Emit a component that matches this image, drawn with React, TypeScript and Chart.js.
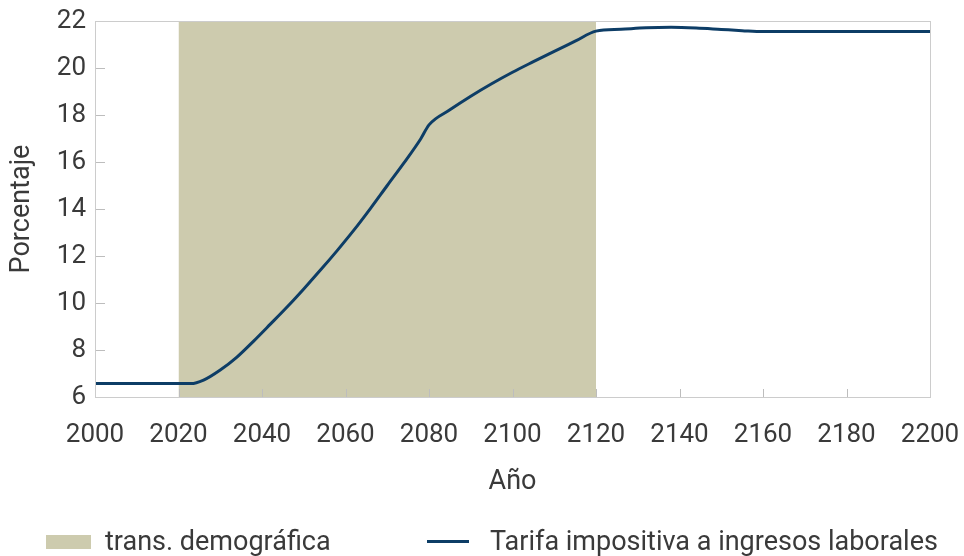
import React, { useEffect, useRef } from "react";
import { Chart, registerables } from "chart.js";

Chart.register(...registerables);

const years = [2000, 2023, 2026, 2030, 2034, 2038, 2042, 2046, 2050, 2054, 2058, 2062, 2066, 2070, 2074, 2078, 2080, 2085, 2090, 2095, 2100, 2105, 2110, 2115, 2120, 2126, 2132, 2138, 2144, 2150, 2155, 2160, 2200];
const taxRate = [6.57, 6.57, 6.72, 7.15, 7.7, 8.38, 9.1, 9.83, 10.6, 11.4, 12.23, 13.1, 14.03, 15.0, 15.96, 16.98, 17.58, 18.22, 18.8, 19.33, 19.82, 20.27, 20.71, 21.14, 21.57, 21.65, 21.71, 21.73, 21.7, 21.64, 21.59, 21.55, 21.55];
const transitionYears = [2020, 2120];
const transitionTop = [22, 22];
const seriesLabels = ["trans. demográfica", "Tarifa impositiva a ingresos laborales"];
const xTitle = "Año";
const yTitle = "Porcentaje";

const FILL = "#cdcbae";
const LINE = "#0d3d66";
const TEXT = "#3a3a3a";
const FONT = "Roboto";

const frame = {
  id: "frame",
  afterDatasetsDraw(chart: any) {
    const { ctx, chartArea, scales } = chart;
    const x = scales.x;
    const y = scales.y;
    ctx.save();
    ctx.strokeStyle = "#bdbdbd";
    ctx.lineWidth = 1;
    ctx.beginPath();
    x.ticks.forEach((t: any) => {
      const px = Math.round(x.getPixelForValue(t.value)) + 0.5;
      ctx.moveTo(px, chartArea.bottom);
      ctx.lineTo(px, chartArea.bottom - 8);
    });
    y.ticks.forEach((t: any) => {
      const py = Math.round(y.getPixelForValue(t.value)) + 0.5;
      ctx.moveTo(chartArea.left, py);
      ctx.lineTo(chartArea.left + 10, py);
    });
    ctx.stroke();
    ctx.strokeStyle = "#cccccc";
    ctx.strokeRect(
      Math.round(chartArea.left) + 0.5,
      Math.round(chartArea.top) + 0.5,
      Math.round(chartArea.right - chartArea.left),
      Math.round(chartArea.bottom - chartArea.top)
    );
    ctx.restore();
  },
};

export default function App() {
  const ref = useRef<HTMLCanvasElement | null>(null);
  useEffect(() => {
    if (!ref.current) return;
    Chart.defaults.font.family = FONT;
    Chart.defaults.color = TEXT;
    const chart = new Chart(ref.current, {
      type: "line",
      data: {
        datasets: [
          {
            label: seriesLabels[0],
            data: transitionYears.map((x, i) => ({ x, y: transitionTop[i] })),
            borderWidth: 0,
            borderColor: FILL,
            backgroundColor: FILL,
            fill: "start",
            pointRadius: 0,
            order: 2,
          },
          {
            label: seriesLabels[1],
            data: years.map((x, i) => ({ x, y: taxRate[i] })),
            borderColor: LINE,
            backgroundColor: LINE,
            borderWidth: 3,
            pointRadius: 0,
            cubicInterpolationMode: "monotone",
            borderJoinStyle: "round",
            fill: false,
            order: 1,
          },
        ],
      },
      options: {
        responsive: false,
        animation: false,
        layout: { padding: { top: 21, right: 34, left: 0, bottom: 49 } },
        plugins: {
          tooltip: { enabled: false },
          legend: { display: false },
        },
        scales: {
          x: {
            type: "linear",
            min: 2000,
            max: 2200,
            grid: { display: false, drawTicks: false },
            border: { display: false },
            ticks: {
              stepSize: 20,
              padding: 23,
              font: { size: 26 },
              color: TEXT,
              maxRotation: 0,
              callback: (v: any) => String(v),
            },
            title: { display: true, text: xTitle, font: { size: 27 }, color: TEXT, padding: { top: 0, bottom: 9 } },
            afterFit: (s: any) => {
              s.height = 110;
              s.paddingLeft = 0;
              s.paddingRight = 0;
            },
          },
          y: {
            min: 6,
            max: 22,
            grid: { display: false, drawTicks: false },
            border: { display: false },
            ticks: { stepSize: 2, padding: 9, font: { size: 26 }, color: TEXT, callback: (v: any) => String(v) },
            title: { display: true, text: yTitle, font: { size: 27 }, color: TEXT, padding: { top: 6, bottom: 0 } },
            afterFit: (s: any) => {
              s.width = 95;
              s.paddingTop = 0;
              s.paddingBottom = 0;
            },
          },
        },
      },
      plugins: [frame],
    } as any);
    return () => chart.destroy();
  }, []);

  const legendText: React.CSSProperties = {
    position: "absolute",
    top: 541,
    transform: "translateY(-50%)",
    fontFamily: FONT,
    fontSize: 27,
    color: TEXT,
    whiteSpace: "nowrap",
    lineHeight: 1,
  };

  return (
    <div style={{ position: "fixed", left: 0, top: 0, width: 964, height: 556, background: "#fff", overflow: "hidden" }}>
      <canvas ref={ref} width={964} height={556} style={{ display: "block" }} />
      <div style={{ position: "absolute", left: 46, top: 535, width: 45, height: 14, background: FILL }} />
      <div style={{ ...legendText, left: 105 }}>{seriesLabels[0]}</div>
      <div style={{ position: "absolute", left: 427, top: 540, width: 42, height: 3, background: LINE }} />
      <div style={{ ...legendText, left: 490 }}>{seriesLabels[1]}</div>
    </div>
  );
}
